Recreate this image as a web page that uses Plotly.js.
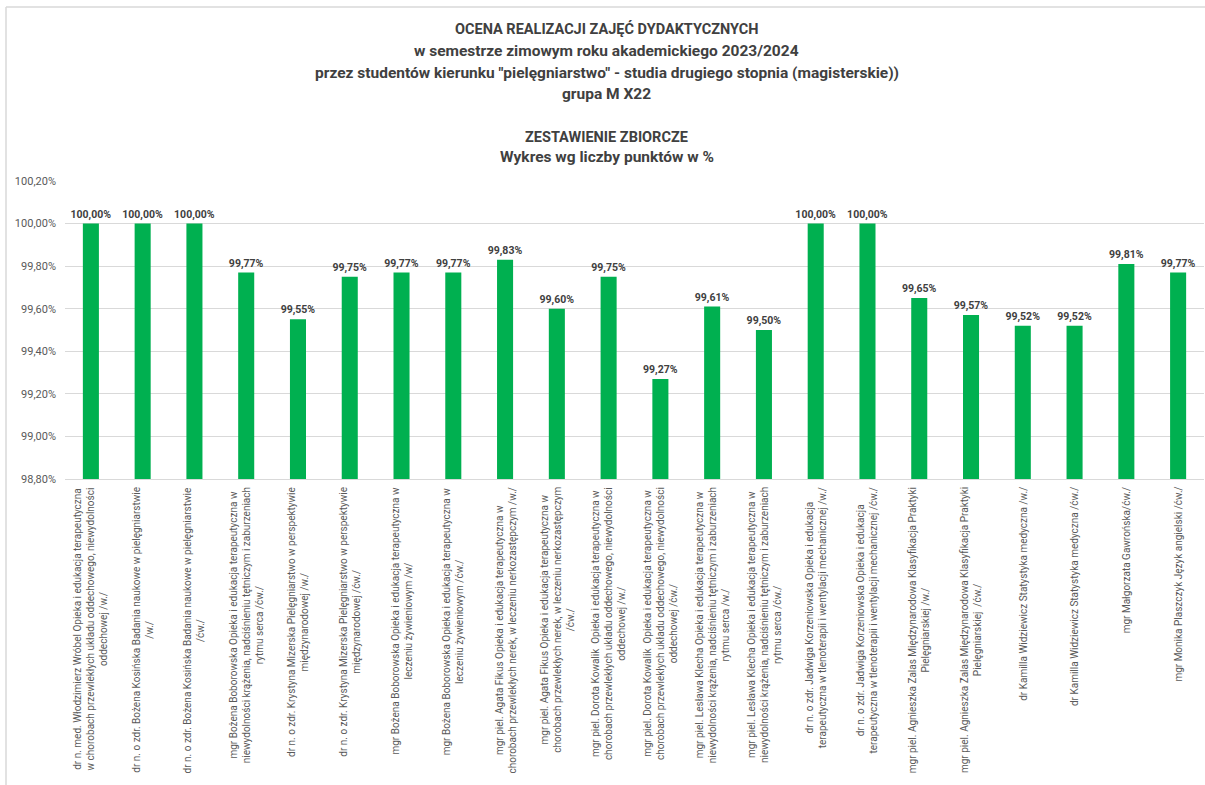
<!DOCTYPE html>
<html>
<head>
<meta charset="utf-8">
<script src="https://cdn.plot.ly/plotly-3.0.1.min.js"></script>
<style>
  html, body { margin: 0; padding: 0; background: #ffffff; }
  #chart { width: 1205px; height: 785px; }
</style>
</head>
<body>
<div id="chart"></div>
<script>
// ---- data ----
var categories = [
  "dr n. med. Włodzimierz Wróbel Opieka i edukacja terapeutyczna<br>w chorobach przewlekłych układu oddechowego, niewydolności<br>oddechowej /w./",
  "dr n. o zdr. Bożena Kosińska Badania naukowe w pielęgniarstwie<br>/w./",
  "dr n. o zdr. Bożena Kosińska Badania naukowe w pielęgniarstwie<br>/ćw./",
  "mgr Bożena Boborowska Opieka i edukacja terapeutyczna w<br>niewydolności krążenia, nadciśnieniu tętniczym i zaburzeniach<br>rytmu serca /ćw./",
  "dr n. o zdr. Krystyna Mizerska Pielęgniarstwo w perspektywie<br>międzynarodowej /w./",
  "dr n. o zdr. Krystyna Mizerska Pielęgniarstwo w perspektywie<br>międzynarodowej /ćw./",
  "mgr Bożena Boborowska Opieka i edukacja terapeutyczna w<br>leczeniu żywieniowym /w/",
  "mgr Bożena Boborowska Opieka i edukacja terapeutyczna w<br>leczeniu żywieniowym /ćw./",
  "mgr piel. Agata Fikus Opieka i edukacja terapeutyczna w<br>chorobach przewlekłych nerek, w leczeniu nerkozastępczym /w./",
  "mgr piel. Agata Fikus Opieka i edukacja terapeutyczna w<br>chorobach przewlekłych nerek, w leczeniu nerkozastępczym<br>/ćw./",
  "mgr piel. Dorota Kowalik  Opieka i edukacja terapeutyczna w<br>chorobach przewlekłych układu oddechowego, niewydolności<br>oddechowej /w./",
  "mgr piel. Dorota Kowalik  Opieka i edukacja terapeutyczna w<br>chorobach przewlekłych układu oddechowego, niewydolności<br>oddechowej /ćw./",
  "mgr piel. Lesława Klecha Opieka i edukacja terapeutyczna w<br>niewydolności krążenia, nadciśnieniu tętniczym i zaburzeniach<br>rytmu serca /w./",
  "mgr piel. Lesława Klecha Opieka i edukacja terapeutyczna w<br>niewydolności krążenia, nadciśnieniu tętniczym i zaburzeniach<br>rytmu serca /ćw./",
  "dr n. o zdr. Jadwiga Korzeniowska Opieka i edukacja<br>terapeutyczna w tlenoterapii i wentylacji mechanicznej /w./",
  "dr n. o zdr. Jadwiga Korzeniowska Opieka i edukacja<br>terapeutyczna w tlenoterapii i wentylacji mechanicznej /ćw./",
  "mgr piel. Agnieszka Zalas Międzynarodowa Klasyfikacja Praktyki<br>Pielęgniarskiej /w./",
  "mgr piel. Agnieszka Zalas Międzynarodowa Klasyfikacja Praktyki<br>Pielęgniarskiej  /ćw./",
  "dr Kamilla Widziewicz Statystyka medyczna /w./",
  "dr Kamilla Widziewicz Statystyka medyczna /ćw./",
  "mgr Małgorzata Gawrońska/ćw./",
  "mgr Monika Plaszczyk Język angielski /ćw./"
];

var scores = [
  100.00, 100.00, 100.00, 99.77, 99.55, 99.75, 99.77, 99.77, 99.83, 99.60, 99.75,
  99.27, 99.61, 99.50, 100.00, 100.00, 99.65, 99.57, 99.52, 99.52, 99.81, 99.77
];

var titleLines = [
  "OCENA REALIZACJI ZAJĘĆ DYDAKTYCZNYCH",
  "w semestrze zimowym roku akademickiego 2023/2024",
  "przez studentów kierunku \"pielęgniarstwo\" - studia drugiego stopnia (magisterskie))",
  "grupa M X22",
  "ZESTAWIENIE ZBIORCZE",
  "Wykres wg liczby punktów w %"
];

// ---- layout helpers ----
var W = 1205, H = 785;
var M = { l: 65, r: 1, t: 181, b: 306 };
var plotW = W - M.l - M.r, plotH = H - M.t - M.b;
function px2x(px) { return (px - M.l) / plotW; }
function px2y(py) { return (H - M.b - py) / plotH; }

var FONT = "'Liberation Sans Narrow', 'Roboto', 'Noto Sans', sans-serif";
var titleY = [29, 51, 73, 94, 137, 157];
var titleSize = [14.5, 15.5, 15.5, 15.5, 14.5, 15.5];

var annotations = [];
titleLines.forEach(function (t, i) {
  annotations.push({
    text: t, xref: "paper", yref: "paper", x: px2x(W / 2 + 4), y: px2y(titleY[i]),
    xanchor: "center", yanchor: "middle", showarrow: false,
    font: { family: FONT, size: titleSize[i], color: "#404040", weight: "bold" }
  });
});
categories.forEach(function (c) {
  annotations.push({
    text: c, xref: "x", yref: "paper", x: c, y: 0, yshift: -6,
    xanchor: "center", yanchor: "top", showarrow: false, textangle: -90,
    align: "center",
    font: { family: FONT, size: 10, color: "#595959" }
  });
});

var trace = {
  type: "bar",
  x: categories,
  y: scores,
  width: 0.31,
  marker: { color: "#00B050" },
  texttemplate: "%{y:.2f}%",
  textposition: "outside",
  constraintext: "none",
  cliponaxis: false,
  textfont: { family: FONT, size: 10.5, color: "#404040", weight: "bold" },
  hoverinfo: "skip"
};

var layout = {
  width: W, height: H,
  margin: M,
  paper_bgcolor: "#ffffff",
  plot_bgcolor: "#ffffff",
  separators: ", ",
  showlegend: false,
  font: { family: FONT, color: "#595959" },
  xaxis: {
    type: "category",
    showticklabels: false,
    showgrid: false,
    zeroline: false,
    showline: true,
    linecolor: "#D9D9D9",
    linewidth: 1,
    ticks: "",
    range: [-0.5, categories.length - 0.5]
  },
  yaxis: {
    range: [98.8, 100.2],
    tick0: 98.8,
    dtick: 0.2,
    tickformat: ".2f",
    ticksuffix: "%",
    showgrid: true,
    gridcolor: "#D9D9D9",
    gridwidth: 1,
    zeroline: false,
    showline: false,
    ticks: "",
    ticklabelstandoff: 8,
    tickfont: { family: FONT, size: 11, color: "#595959" }
  },
  annotations: annotations,
  shapes: [
    { type: "line", xref: "paper", yref: "paper", x0: px2x(6), x1: px2x(W + 5), y0: px2y(7), y1: px2y(7),
      line: { color: "#D9D9D9", width: 1.5 } },
    { type: "line", xref: "paper", yref: "paper", x0: px2x(6), x1: px2x(6), y0: px2y(7), y1: px2y(H + 5),
      line: { color: "#D9D9D9", width: 1.5 } }
  ]
};

Plotly.newPlot("chart", [trace], layout, { staticPlot: true, displayModeBar: false });
</script>
</body>
</html>
